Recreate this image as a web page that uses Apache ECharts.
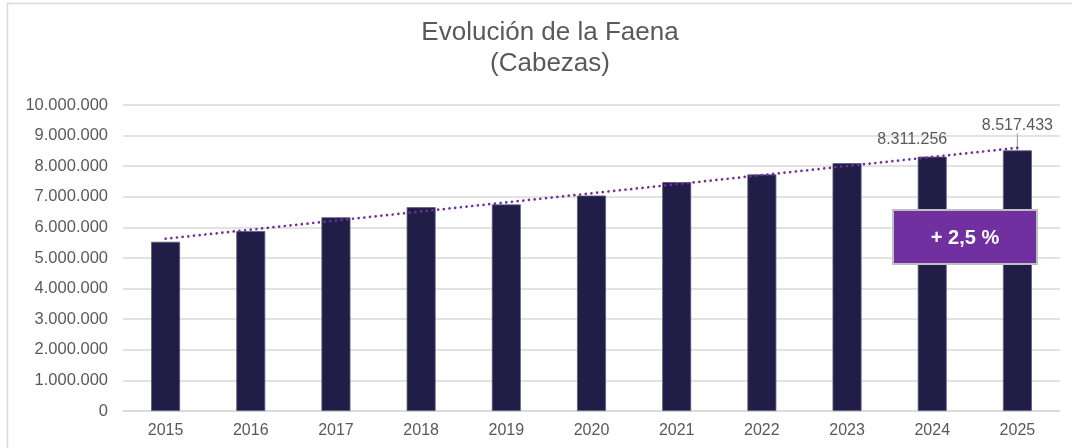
<!DOCTYPE html>
<html>
<head>
<meta charset="utf-8">
<script src="https://cdn.jsdelivr.net/npm/echarts@6/dist/echarts.min.js"></script>
<style>
html,body{margin:0;padding:0;background:#fff;}
#chart{width:1072px;height:448px;}
</style>
</head>
<body>
<div id="chart"></div>
<script>
const categories = ['2015','2016','2017','2018','2019','2020','2021','2022','2023','2024','2025'];
const faena = [5530000, 5880000, 6330000, 6660000, 6750000, 7040000, 7480000, 7730000, 8100000, 8311256, 8517433];
const labeledIndexes = [9, 10];
const trendStart = 5630000;
const trendEnd = 8600000;
const yMin = 0, yMax = 10000000, yStep = 1000000;
const growthText = '+ 2,5 %';

const fmt = v => String(v).replace(/\B(?=(\d{3})+(?!\d))/g, '.');
const FONT = 'Liberation Sans, Arial, sans-serif';

const chart = echarts.init(document.getElementById('chart'));
chart.setOption({
  animation: false,
  backgroundColor: '#fff',
  title: {
    text: 'Evolución de la Faena\n(Cabezas)',
    left: 545, top: 12, textAlign: 'center',
    textStyle: {fontSize: 26, fontWeight: 'normal', color: '#595959', lineHeight: 31, fontFamily: FONT}
  },
  grid: {left: 123, right: 12, top: 105, bottom: 37, containLabel: false},
  xAxis: {
    type: 'category', data: categories,
    axisLine: {lineStyle: {color: '#D9D9D9', width: 1.5}},
    axisTick: {show: false},
    axisLabel: {color: '#595959', fontSize: 16, fontFamily: FONT, margin: 12}
  },
  yAxis: {
    type: 'value', min: yMin, max: yMax, interval: yStep,
    axisLine: {show: false}, axisTick: {show: false},
    splitLine: {lineStyle: {color: '#D9D9D9', width: 1.5}},
    axisLabel: {color: '#595959', fontSize: 16.5, fontFamily: FONT, margin: 15, formatter: fmt}
  },
  series: [{
    type: 'bar',
    barWidth: '34%',
    itemStyle: {color: '#201E46', borderColor: '#5E5C7E', borderWidth: 0.8},
    data: faena.map((v, i) => labeledIndexes.includes(i) ? {
      value: v,
      label: {show: true, position: 'top', formatter: p => fmt(p.value), color: '#595959', fontSize: 16, fontFamily: FONT},
      labelLine: {show: i === 10, lineStyle: {color: '#A6A6A6', width: 1.2}}
    } : v),
    labelLayout: p => p.dataIndex === 10 ? {dy: -12} : (p.dataIndex === 9 ? {dx: -20, dy: -4} : {}),
    markLine: {
      silent: true, symbol: 'none', label: {show: false},
      lineStyle: {color: '#7030A0', width: 2.7, type: [0.01, 5.7], cap: 'round'},
      data: [[{coord: [categories[0], trendStart]}, {coord: [categories[categories.length - 1], trendEnd]}]]
    }
  }],
  graphic: [
    {type: 'rect', shape: {x: 7.5, y: 3.5, width: 1090, height: 470}, style: {fill: 'none', stroke: '#D9D9D9', lineWidth: 1.5}, z: 100},
    {type: 'rect', shape: {x: 893, y: 210, width: 144, height: 54}, style: {fill: '#7030A0', stroke: '#BFBFBF', lineWidth: 2}, z: 101},
    {type: 'text', x: 965, y: 238, style: {text: growthText, fill: '#fff', font: 'bold 20px ' + FONT, textAlign: 'center', textVerticalAlign: 'middle'}, z: 102}
  ]
});
</script>
</body>
</html>
